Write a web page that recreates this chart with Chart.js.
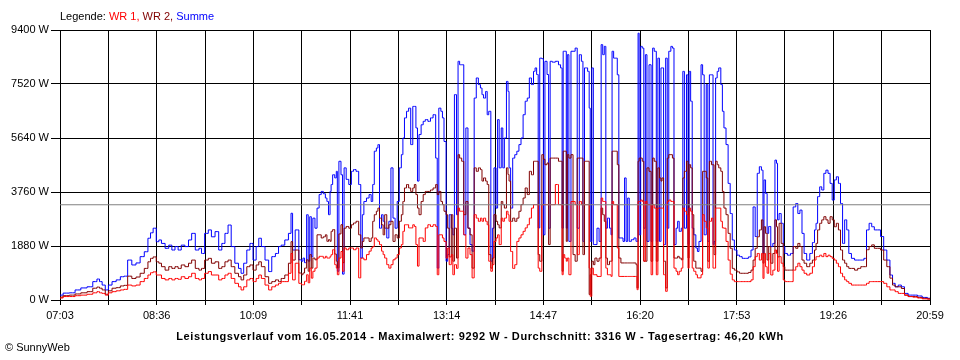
<!DOCTYPE html>
<html>
<head>
<meta charset="utf-8">
<title>Leistungsverlauf 16.05.2014</title>
<script src="https://cdn.jsdelivr.net/npm/chart.js@4.4.0/dist/chart.umd.min.js"></script>
<style>
    body { margin: 0; background: #fff; }
    #wrap { position: relative; width: 960px; height: 360px; font-family: "Liberation Sans", Arial, sans-serif; font-size: 11px; color: #000; }
    #chart { position: absolute; left: 0; top: 0; }
    #legend { position: absolute; left: 60px; top: 10px; white-space: nowrap; }
    #footer { position: absolute; left: 0; top: 330px; width: 960px; text-align: center; font-weight: bold; letter-spacing: 0.6px; white-space: nowrap; }
    #copy { position: absolute; left: 5px; top: 341px; }
</style>
</head>
<body>
<div id="wrap">
    <canvas id="chart" width="960" height="360"></canvas>
    <div id="legend">Legende: <span style="color:#ff0000">WR 1,</span> <span style="color:#800000">WR 2,</span> <span style="color:#0000ff">Summe</span></div>
    <div id="footer">Leistungsverlauf vom 16.05.2014 - Maximalwert: 9292 W - Durchschnitt: 3316 W - Tagesertrag: 46,20 kWh</div>
    <div id="copy">© SunnyWeb</div>
</div>
<script>
// Minutes after 07:03 for each reading
const minutes = [
    0,6,12,17,23,29,34,37,39,42,45,48,52,56,60,63,67,71,75,79,
    83,86,88,91,94,96,99,103,106,109,112,115,118,122,125,128,132,135,137,141,
    144,147,151,154,157,160,163,166,170,173,175,178,181,184,187,190,192,195,199,202,
    205,209,211,214,218,221,223,224,228,231,233,234,236,238,239,241,242,244,246,248,
    250,252,254,256,257,259,260,261,263,265,266,267,269,271,272,274,276,279,281,283,
    286,288,290,291,293,296,298,300,301,303,305,306,308,310,311,313,315,317,319,321,
    323,325,327,329,330,332,334,336,338,340,341,343,344,346,348,350,352,355,357,360,
    362,363,365,367,368,370,372,373,375,377,378,380,382,383,385,387,389,391,393,395,
    397,399,401,403,405,406,408,410,411,413,415,416,418,420,421,423,425,426,428,430,
    431,432,434,436,438,440,442,444,446,448,450,452,454,456,457,459,460,462,464,465,
    467,469,470,472,474,478,480,482,483,484,486,487,488,490,492,494,496,498,500,502,
    503,505,506,508,509,510,512,513,515,517,519,521,522,524,525,527,529,530,531,533,
    535,536,538,540,542,543,545,546,548,550,553,554,555,556,557,559,560,562,563,565,
    567,569,570,572,574,575,577,578,579,581,583,584,586,588,589,591,593,594,596,598,
    599,601,603,604,605,607,608,610,612,613,615,617,618,620,622,623,625,627,628,629,
    631,632,634,636,637,639,641,643,645,647,649,652,654,657,660,663,665,667,669,671,
    673,675,676,677,679,680,682,684,686,688,689,690,692,694,696,697,701,703,706,708,
    710,712,714,716,719,722,724,726,727,729,731,733,735,737,739,741,743,745,747,749,
    751,753,755,757,759,762,765,768,771,774,776,779,781,784,787,790,793,796,799,801,
    804,807,810,813,817,822,826,831,836
];

// WR 1 (W)
const wr1 = [
    70,120,120,150,170,200,250,290,250,230,170,250,290,320,350,370,520,490,520,640,
    750,870,950,980,870,870,750,700,750,700,750,720,810,750,810,930,750,700,750,930,
    990,870,870,700,750,870,930,750,580,460,350,460,700,750,640,750,870,750,520,350,
    460,520,580,640,640,930,1620,700,1280,580,530,530,650,880,600,1110,760,1000,1110,1460,
    1520,1520,1460,1520,1460,1460,1520,1580,1750,1230,1110,880,1460,1690,1000,1810,1750,1810,1810,1750,
    1810,770,1460,1460,1400,1580,1700,1810,1860,2160,2100,2040,1930,1700,1580,1460,1230,1110,1230,1400,
    1460,1580,1810,1930,2390,2620,2620,2510,2510,2620,2560,1930,1180,2160,2160,2040,2510,2620,2560,2620,
    2560,880,2270,2270,2160,2040,1460,1810,1230,1580,880,1230,1100,3200,3090,3090,2270,1460,1810,1580,
    770,2970,2850,2740,2850,2740,2850,2740,2620,1350,1000,1230,2040,2160,2270,1930,2850,2740,2850,3090,
    2970,2740,1690,1100,1230,2040,2160,2270,2390,2510,2620,2850,3200,3320,3320,3320,1110,1000,3320,3320,
    3320,3320,3320,3320,3320,4020,3320,3320,880,1580,1460,1350,1460,880,3430,3430,3320,1580,3430,3320,
    3320,3320,3320,3320,1110,130,1110,880,880,820,820,3550,3430,3430,1110,880,880,820,3430,3320,
    3320,1810,820,820,820,820,820,820,820,820,820,820,360,3430,3430,3480,3430,1350,3430,3320,
    3320,880,3320,3200,880,3200,3200,3200,3200,880,300,3430,3480,3430,3430,1110,1000,880,1000,1110,
    3200,3090,2970,1110,3200,3090,1110,1000,880,770,770,880,2970,2740,2510,1110,2740,2850,1110,1110,
    3200,3200,3200,2740,2510,2500,2040,1390,900,700,640,640,640,640,640,640,700,1160,1510,1620,
    1390,1620,750,1620,1160,930,1620,870,1040,1740,1620,1000,1510,1280,700,640,640,640,1040,1160,
    1280,1160,1040,930,870,930,1160,1390,1510,1510,1560,1510,1620,1510,1560,1510,1450,1390,1280,1160,
    930,810,700,640,580,520,520,520,520,520,580,640,640,640,640,640,580,460,350,350,
    290,230,230,170,120,100,70,40,30
];

// WR 2 (W)
const wr2 = [
    100,150,170,210,250,290,410,450,410,350,200,320,410,430,490,510,830,750,800,930,
    1100,1330,1450,1500,1330,1280,1160,1040,1160,1100,1160,1100,1220,1160,1280,1390,1100,1040,1100,1390,
    1450,1280,1330,1100,1160,1330,1390,1160,930,810,700,870,1160,1220,1040,1220,1330,1160,810,580,
    640,700,640,750,870,1280,2030,1390,1740,940,880,940,1110,1400,1000,1580,1110,1460,1400,2270,
    2270,2160,2200,2270,2040,2100,2040,2390,2450,1600,1350,1120,2300,2620,1300,2500,2560,2500,2620,2680,
    2740,2270,1810,2040,2160,2160,2040,2160,2740,2970,3090,3200,2850,2620,2270,2970,2500,2620,2740,2040,
    2270,2160,2740,2970,3430,3900,4020,3900,3780,3900,4020,3670,3200,2970,3430,3670,3780,3780,3830,3900,
    4020,3670,3780,3430,3320,3090,2970,2500,1500,2970,1350,2500,1460,5060,4940,4830,2970,3430,2500,2270,
    1110,4600,4480,4600,4540,4140,4250,4140,4020,1580,1110,1460,2970,2740,2620,2510,3430,3320,3200,4600,
    4370,4140,2740,2850,2740,2850,3090,3320,3550,3900,3670,4480,4360,4830,4830,4830,1580,1350,5060,4900,
    4710,4770,1930,4940,4940,4940,4830,4830,1000,5180,5180,2040,5060,4940,5060,1580,1350,4940,4940,4940,
    1580,4830,4830,4830,190,880,1350,1230,1460,1350,1460,3200,2970,2740,1460,1230,1350,1350,5180,5180,
    5180,4710,1460,1290,1290,1290,1290,1290,1290,1290,1290,1230,420,4830,4940,4940,4830,1350,1350,4600,
    4480,1350,4940,4830,1350,4600,4250,4140,4250,1350,420,4940,5060,5060,4940,1460,1460,1520,1460,1400,
    4250,4480,4830,1460,4710,4600,2970,1350,1110,1110,1110,1000,4480,4480,4250,1350,4830,4710,4710,1580,
    4830,4710,4600,4480,3780,3200,2970,2320,1800,1100,1040,980,930,930,930,960,1040,1390,1800,2200,
    2440,2790,1280,2550,2320,1390,1860,1280,1620,2790,2550,1500,2670,1970,1160,1040,1040,1040,1860,1800,
    1970,1860,1390,1280,1160,1280,1390,1740,1970,2440,2670,2790,2900,2790,2670,2900,2790,2550,2670,2440,
    1740,1390,1280,1160,1100,1100,1040,1100,1160,1160,1750,1860,1920,1800,1800,1740,1390,1160,760,520,
    460,460,400,170,120,120,90,60,40
];

// Summe (W)
const summe = [
    170,240,250,350,420,460,640,730,640,520,350,520,640,700,810,830,1390,1220,1290,1510,
    1680,2150,2340,2500,2030,2090,1970,1800,1910,1740,1860,1740,1910,1860,2090,2320,1740,1800,1620,2320,
    2440,2200,2380,1740,1970,2320,2610,1860,1280,1100,930,1280,1740,1970,1390,1860,2150,1860,1390,990,
    1510,1620,1860,1910,2090,2320,3020,1740,2440,1400,1350,1460,1300,2970,1350,2900,1500,2850,2500,3200,
    3670,3780,3700,3550,3430,2970,3780,4020,4360,4250,4480,1000,4830,4360,900,4600,4200,4020,4480,4540,
    4480,4020,1460,2970,3430,3550,3670,3430,4020,5180,5290,5410,2500,2970,2740,2500,2160,2740,4600,2850,
    2500,3430,4600,5060,5640,6340,6570,6680,5410,6740,6740,5990,4140,5760,6100,6220,6280,6220,6340,6450,
    4940,1110,6680,6570,6340,5520,1350,1580,2970,2500,2270,7150,2970,8310,8190,8190,2270,5990,2500,1930,
    1700,7030,7730,7500,7380,7150,7030,7260,6450,6570,1350,2500,4600,3200,6280,4600,5990,4600,5640,7610,
    7260,4600,3200,4940,5060,5180,5410,5640,6450,6920,7030,7730,7500,7960,8080,7850,2510,8420,8400,2270,
    8310,7850,2500,8310,8280,8310,8190,8080,2500,8660,8660,2500,8540,2040,8660,8660,8770,2500,8540,8310,
    2040,8080,8080,7960,6680,2040,8080,1930,1930,2500,2040,8890,8540,8830,2500,2850,2500,2270,8660,8420,
    8420,7840,2160,2160,2040,4250,2040,3550,2040,2100,2160,2040,2040,9290,2270,8830,8770,2500,8540,2040,
    8190,2040,8770,8660,2040,8420,2040,8080,8080,1930,8420,2500,8660,8830,8770,1930,2500,2740,2390,2500,
    7960,2500,7840,1930,7960,6920,2500,2270,1810,1690,2040,8190,7840,2270,7500,2040,7840,7840,1930,2040,
    7730,7960,8080,7500,6570,5990,5410,4060,3010,2090,1740,1560,1510,1450,1450,1500,1740,3240,2210,4410,
    4640,4520,1620,4180,3710,2320,2560,1860,1970,4870,4760,2790,3010,2670,1860,1620,1560,1620,3240,3360,
    3010,3130,2320,1620,1390,1620,2000,2440,2670,3600,3940,3830,4410,4520,4410,4060,3480,4180,4290,4060,
    3360,1970,2790,2440,1620,1450,1390,1390,1390,1450,2440,2670,2550,2440,2440,2210,1740,1390,870,580,
    460,520,460,230,170,170,140,90,60
];

const averageW = 3316;
const totalMinutes = 836;
const xTickLabels = ['07:03', '08:36', '10:09', '11:41', '13:14', '14:47', '16:20', '17:53', '19:26', '20:59'];
const yTicks = [0, 1880, 3760, 5640, 7520, 9400];

const toPoints = values => values.map((v, i) => ({ x: minutes[i], y: v }));

// one grid line every half label step
const xTickValues = [];
for (let i = 0; i <= 18; i++) xTickValues.push(i * totalMinutes / 18);

Chart.defaults.font.family = '"Liberation Sans", Arial, sans-serif';
Chart.defaults.font.size = 11;
Chart.defaults.color = '#000';

const lineStyle = { borderWidth: 1, pointRadius: 0, tension: 0, fill: false, stepped: 'middle' };

new Chart(document.getElementById('chart').getContext('2d'), {
    type: 'line',
    data: {
        datasets: [
            { label: 'Durchschnitt', data: [{ x: 0, y: averageW }, { x: totalMinutes, y: averageW }], borderColor: '#808080', borderWidth: 1, pointRadius: 0 },
            { label: 'WR 1', data: toPoints(wr1), borderColor: '#ff0000', ...lineStyle },
            { label: 'WR 2', data: toPoints(wr2), borderColor: '#800000', ...lineStyle },
            { label: 'Summe', data: toPoints(summe), borderColor: '#0000ff', ...lineStyle }
        ]
    },
    options: {
        responsive: false,
        animation: false,
        events: [],
        layout: { padding: { top: 30, right: 30, left: 0, bottom: 0 } },
        plugins: { legend: { display: false }, tooltip: { enabled: false } },
        scales: {
            x: {
                type: 'linear',
                min: 0,
                max: totalMinutes,
                afterFit: scale => { scale.height = 60; },
                afterBuildTicks: scale => { scale.ticks = xTickValues.map(v => ({ value: v })); },
                grid: { color: '#000', tickColor: '#000', tickLength: 5, lineWidth: 1 },
                border: { color: '#000' },
                ticks: {
                    autoSkip: false,
                    maxRotation: 0,
                    padding: 4,
                    callback: (value, index) => index % 2 === 0 ? xTickLabels[index / 2] : ''
                }
            },
            y: {
                min: 0,
                max: 9400,
                afterFit: scale => { scale.width = 60; },
                afterBuildTicks: scale => { scale.ticks = yTicks.map(v => ({ value: v })); },
                grid: { color: '#000', tickColor: '#000', tickLength: 9, lineWidth: 1 },
                border: { color: '#000' },
                ticks: { padding: 2, callback: value => value + ' W' }
            }
        }
    }
});
</script>
</body>
</html>
